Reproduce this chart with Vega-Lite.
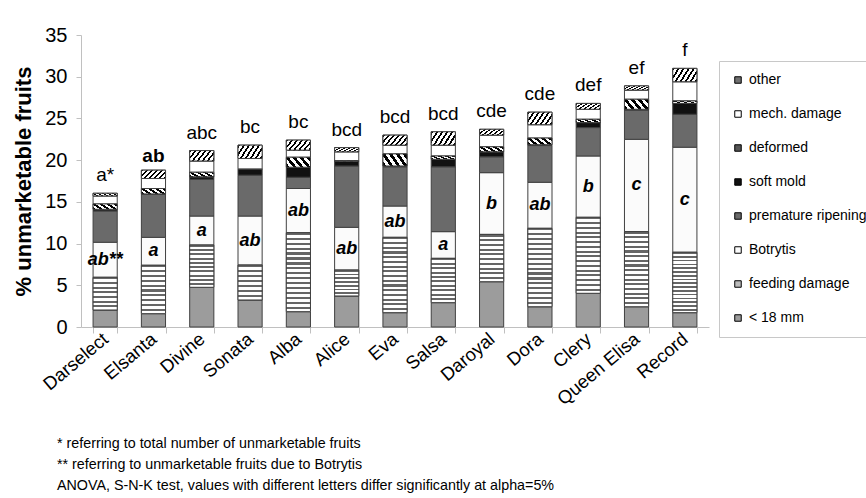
{
  "$schema": "https://vega.github.io/schema/vega-lite/v6.json",
  "autosize": {"type": "none"},
  "padding": {"left": 81, "top": 35, "right": 157, "bottom": 171},
  "width": 628,
  "height": 292,
  "background": "white",
  "title": {
    "text": ["* referring to total number of unmarketable fruits", "** referring to unmarketable fruits due to Botrytis", "ANOVA, S-N-K test, values with different letters differ significantly at alpha=5%"],
    "orient": "bottom", "anchor": "start", "frame": "group", "fontSize": 14.3, "fontWeight": "normal",
    "font": "Liberation Sans", "color": "black", "lineHeight": 21, "dx": -24, "offset": 29
  },
  "datasets": {
    "main": [
      {"v":"Darselect","c":"< 18 mm","p":2.04},{"v":"Darselect","c":"feeding damage","p":3.92},{"v":"Darselect","c":"Botrytis","p":4.2},{"v":"Darselect","c":"premature ripening","p":3.75},{"v":"Darselect","c":"soft mold","p":0.2},{"v":"Darselect","c":"deformed","p":0.64},{"v":"Darselect","c":"mech. damage","p":0.96},{"v":"Darselect","c":"other","p":0.32},
      {"v":"Elsanta","c":"< 18 mm","p":1.6},{"v":"Elsanta","c":"feeding damage","p":5.8},{"v":"Elsanta","c":"Botrytis","p":3.35},{"v":"Elsanta","c":"premature ripening","p":5.15},{"v":"Elsanta","c":"soft mold","p":0.05},{"v":"Elsanta","c":"deformed","p":0.65},{"v":"Elsanta","c":"mech. damage","p":1.2},{"v":"Elsanta","c":"other","p":1.0},
      {"v":"Divine","c":"< 18 mm","p":4.76},{"v":"Divine","c":"feeding damage","p":5.07},{"v":"Divine","c":"Botrytis","p":3.47},{"v":"Divine","c":"premature ripening","p":4.4},{"v":"Divine","c":"soft mold","p":0.3},{"v":"Divine","c":"deformed","p":0.55},{"v":"Divine","c":"mech. damage","p":1.35},{"v":"Divine","c":"other","p":1.25},
      {"v":"Sonata","c":"< 18 mm","p":3.24},{"v":"Sonata","c":"feeding damage","p":4.19},{"v":"Sonata","c":"Botrytis","p":5.87},{"v":"Sonata","c":"premature ripening","p":4.9},{"v":"Sonata","c":"soft mold","p":0.75},{"v":"Sonata","c":"deformed","p":0},{"v":"Sonata","c":"mech. damage","p":1.25},{"v":"Sonata","c":"other","p":1.6},
      {"v":"Alba","c":"< 18 mm","p":1.84},{"v":"Alba","c":"feeding damage","p":9.46},{"v":"Alba","c":"Botrytis","p":5.3},{"v":"Alba","c":"premature ripening","p":1.35},{"v":"Alba","c":"soft mold","p":1.2},{"v":"Alba","c":"deformed","p":1.2},{"v":"Alba","c":"mech. damage","p":0.85},{"v":"Alba","c":"other","p":1.2},
      {"v":"Alice","c":"< 18 mm","p":3.72},{"v":"Alice","c":"feeding damage","p":3.11},{"v":"Alice","c":"Botrytis","p":5.12},{"v":"Alice","c":"premature ripening","p":7.35},{"v":"Alice","c":"soft mold","p":0.55},{"v":"Alice","c":"deformed","p":0.1},{"v":"Alice","c":"mech. damage","p":1.05},{"v":"Alice","c":"other","p":0.5},
      {"v":"Eva","c":"< 18 mm","p":1.72},{"v":"Eva","c":"feeding damage","p":9.03},{"v":"Eva","c":"Botrytis","p":3.75},{"v":"Eva","c":"premature ripening","p":4.7},{"v":"Eva","c":"soft mold","p":0.1},{"v":"Eva","c":"deformed","p":1.45},{"v":"Eva","c":"mech. damage","p":1.05},{"v":"Eva","c":"other","p":1.2},
      {"v":"Salsa","c":"< 18 mm","p":2.92},{"v":"Salsa","c":"feeding damage","p":5.31},{"v":"Salsa","c":"Botrytis","p":3.2},{"v":"Salsa","c":"premature ripening","p":7.77},{"v":"Salsa","c":"soft mold","p":0.9},{"v":"Salsa","c":"deformed","p":0.4},{"v":"Salsa","c":"mech. damage","p":1.3},{"v":"Salsa","c":"other","p":1.6},
      {"v":"Daroyal","c":"< 18 mm","p":5.43},{"v":"Daroyal","c":"feeding damage","p":5.67},{"v":"Daroyal","c":"Botrytis","p":7.4},{"v":"Daroyal","c":"premature ripening","p":1.9},{"v":"Daroyal","c":"soft mold","p":0.6},{"v":"Daroyal","c":"deformed","p":0.6},{"v":"Daroyal","c":"mech. damage","p":1.4},{"v":"Daroyal","c":"other","p":0.7},
      {"v":"Dora","c":"< 18 mm","p":2.43},{"v":"Dora","c":"feeding damage","p":9.4},{"v":"Dora","c":"Botrytis","p":5.52},{"v":"Dora","c":"premature ripening","p":4.4},{"v":"Dora","c":"soft mold","p":0.1},{"v":"Dora","c":"deformed","p":0.8},{"v":"Dora","c":"mech. damage","p":1.6},{"v":"Dora","c":"other","p":1.5},
      {"v":"Clery","c":"< 18 mm","p":4.04},{"v":"Clery","c":"feeding damage","p":9.11},{"v":"Clery","c":"Botrytis","p":7.35},{"v":"Clery","c":"premature ripening","p":3.4},{"v":"Clery","c":"soft mold","p":0.6},{"v":"Clery","c":"deformed","p":0.4},{"v":"Clery","c":"mech. damage","p":1.2},{"v":"Clery","c":"other","p":0.7},
      {"v":"Queen Elisa","c":"< 18 mm","p":2.43},{"v":"Queen Elisa","c":"feeding damage","p":9.0},{"v":"Queen Elisa","c":"Botrytis","p":11.07},{"v":"Queen Elisa","c":"premature ripening","p":3.5},{"v":"Queen Elisa","c":"soft mold","p":0.1},{"v":"Queen Elisa","c":"deformed","p":1.2},{"v":"Queen Elisa","c":"mech. damage","p":1.1},{"v":"Queen Elisa","c":"other","p":0.5},
      {"v":"Record","c":"< 18 mm","p":1.72},{"v":"Record","c":"feeding damage","p":7.24},{"v":"Record","c":"Botrytis","p":12.59},{"v":"Record","c":"premature ripening","p":3.95},{"v":"Record","c":"soft mold","p":1.3},{"v":"Record","c":"deformed","p":0.3},{"v":"Record","c":"mech. damage","p":2.3},{"v":"Record","c":"other","p":1.6}
    ],
    "letters": [
      {"v":"Darselect","L":"a*","I":"ab**"},{"v":"Elsanta","L":"ab","I":"a"},{"v":"Divine","L":"abc","I":"a"},{"v":"Sonata","L":"bc","I":"ab"},{"v":"Alba","L":"bc","I":"ab"},{"v":"Alice","L":"bcd","I":"ab"},{"v":"Eva","L":"bcd","I":"ab"},{"v":"Salsa","L":"bcd","I":"a"},{"v":"Daroyal","L":"cde","I":"b"},{"v":"Dora","L":"cde","I":"ab"},{"v":"Clery","L":"def","I":"b"},{"v":"Queen Elisa","L":"ef","I":"c"},{"v":"Record","L":"f","I":"c"}
    ]
  },
  "data": {"name": "main"},
  "transform": [
    {"calculate": "indexof(['< 18 mm','feeding damage','Botrytis','premature ripening','soft mold','deformed','mech. damage','other'], datum.c)", "as": "k"},
    {"stack": "p", "groupby": ["v"], "sort": [{"field": "k", "order": "ascending"}], "as": ["y0", "y1"]},
    {"lookup": "v", "from": {"data": {"name": "letters"}, "key": "v", "fields": ["L", "I"]}}
  ],
  "layer": [
    {
      "mark": {"type": "bar", "stroke": "#404040", "strokeWidth": 1},
      "encoding": {
        "x": {"field": "v", "type": "nominal", "title": null, "sort": ["Darselect","Elsanta","Divine","Sonata","Alba","Alice","Eva","Salsa","Daroyal","Dora","Clery","Queen Elisa","Record"], "scale": {"paddingInner": 0.5, "paddingOuter": 0.25}},
        "y": {"field": "y1", "type": "quantitative", "title": "% unmarketable fruits", "scale": {"domain": [0, 35], "nice": false}, "axis": {"values": [0,5,10,15,20,25,30,35]}},
        "y2": {"field": "y0"},
        "fill": {"field": "c", "type": "nominal",
          "scale": {"domain": ["other","mech. damage","deformed","soft mold","premature ripening","Botrytis","feeding damage","< 18 mm"],
                    "range": ["#707070","#ffffff","#555555","#111111","#6a6a6a","#fbfbfb","#bbbbbb","#9c9c9c"]},
          "legend": {"orient": "none", "legendX": 638, "legendY": 26, "title": null, "labelFontSize": 14, "labelFont": "Liberation Sans", "labelColor": "black",
                     "symbolType": "square", "symbolSize": 42, "symbolStrokeColor": "black", "symbolStrokeWidth": 1, "rowPadding": 20, "padding": 12,
                     "strokeColor": "#c8c8c8", "labelOffset": 4}}
      }
    },
    {
      "transform": [{"filter": "datum.c==='feeding damage' && indexof(['Darselect','Sonata','Alice'], datum.v) >= 0"}],
      "mark": {"type": "bar", "stroke": "#404040", "strokeWidth": 1, "fill": {"gradient": "linear", "x1": 0, "y1": 0, "x2": 0, "y2": 1, "stops": [
        {"offset":0,"color":"#666"},{"offset":0.0643,"color":"#666"},{"offset":0.0643,"color":"#fff"},{"offset":0.1429,"color":"#fff"},
        {"offset":0.1429,"color":"#666"},{"offset":0.2071,"color":"#666"},{"offset":0.2071,"color":"#fff"},{"offset":0.2857,"color":"#fff"},
        {"offset":0.2857,"color":"#666"},{"offset":0.35,"color":"#666"},{"offset":0.35,"color":"#fff"},{"offset":0.4286,"color":"#fff"},
        {"offset":0.4286,"color":"#666"},{"offset":0.4929,"color":"#666"},{"offset":0.4929,"color":"#fff"},{"offset":0.5714,"color":"#fff"},
        {"offset":0.5714,"color":"#666"},{"offset":0.6357,"color":"#666"},{"offset":0.6357,"color":"#fff"},{"offset":0.7143,"color":"#fff"},
        {"offset":0.7143,"color":"#666"},{"offset":0.7786,"color":"#666"},{"offset":0.7786,"color":"#fff"},{"offset":0.8571,"color":"#fff"},
        {"offset":0.8571,"color":"#666"},{"offset":0.9214,"color":"#666"},{"offset":0.9214,"color":"#fff"},{"offset":1,"color":"#fff"}]}},
      "encoding": {
        "x": {"field": "v", "type": "nominal", "title": null, "sort": ["Darselect","Elsanta","Divine","Sonata","Alba","Alice","Eva","Salsa","Daroyal","Dora","Clery","Queen Elisa","Record"]},
        "y": {"field": "y1", "type": "quantitative", "title": "% unmarketable fruits"},
        "y2": {"field": "y0"}
      }
    },
    {
      "transform": [{"filter": "datum.c==='feeding damage' && indexof(['Elsanta','Divine','Salsa','Daroyal'], datum.v) >= 0"}],
      "mark": {"type": "bar", "stroke": "#404040", "strokeWidth": 1, "fill": {"gradient": "linear", "x1": 0, "y1": 0, "x2": 0, "y2": 1, "stops": [
        {"offset":0,"color":"#666"},{"offset":0.045,"color":"#666"},{"offset":0.045,"color":"#fff"},{"offset":0.1,"color":"#fff"},
        {"offset":0.1,"color":"#666"},{"offset":0.145,"color":"#666"},{"offset":0.145,"color":"#fff"},{"offset":0.2,"color":"#fff"},
        {"offset":0.2,"color":"#666"},{"offset":0.245,"color":"#666"},{"offset":0.245,"color":"#fff"},{"offset":0.3,"color":"#fff"},
        {"offset":0.3,"color":"#666"},{"offset":0.345,"color":"#666"},{"offset":0.345,"color":"#fff"},{"offset":0.4,"color":"#fff"},
        {"offset":0.4,"color":"#666"},{"offset":0.445,"color":"#666"},{"offset":0.445,"color":"#fff"},{"offset":0.5,"color":"#fff"},
        {"offset":0.5,"color":"#666"},{"offset":0.545,"color":"#666"},{"offset":0.545,"color":"#fff"},{"offset":0.6,"color":"#fff"},
        {"offset":0.6,"color":"#666"},{"offset":0.645,"color":"#666"},{"offset":0.645,"color":"#fff"},{"offset":0.7,"color":"#fff"},
        {"offset":0.7,"color":"#666"},{"offset":0.745,"color":"#666"},{"offset":0.745,"color":"#fff"},{"offset":0.8,"color":"#fff"},
        {"offset":0.8,"color":"#666"},{"offset":0.845,"color":"#666"},{"offset":0.845,"color":"#fff"},{"offset":0.9,"color":"#fff"},
        {"offset":0.9,"color":"#666"},{"offset":0.945,"color":"#666"},{"offset":0.945,"color":"#fff"},{"offset":1,"color":"#fff"}]}},
      "encoding": {
        "x": {"field": "v", "type": "nominal", "title": null, "sort": ["Darselect","Elsanta","Divine","Sonata","Alba","Alice","Eva","Salsa","Daroyal","Dora","Clery","Queen Elisa","Record"]},
        "y": {"field": "y1", "type": "quantitative", "title": "% unmarketable fruits"},
        "y2": {"field": "y0"}
      }
    },
    {
      "transform": [{"filter": "datum.c==='feeding damage' && indexof(['Alba','Eva','Dora','Clery','Queen Elisa','Record'], datum.v) >= 0"}],
      "mark": {"type": "bar", "stroke": "#404040", "strokeWidth": 1, "fill": {"gradient": "linear", "x1": 0, "y1": 0, "x2": 0, "y2": 1, "stops": [
        {"offset":0,"color":"#666"},{"offset":0.028,"color":"#666"},{"offset":0.028,"color":"#fff"},{"offset":0.0625,"color":"#fff"},
        {"offset":0.0625,"color":"#666"},{"offset":0.0905,"color":"#666"},{"offset":0.0905,"color":"#fff"},{"offset":0.125,"color":"#fff"},
        {"offset":0.125,"color":"#666"},{"offset":0.153,"color":"#666"},{"offset":0.153,"color":"#fff"},{"offset":0.1875,"color":"#fff"},
        {"offset":0.1875,"color":"#666"},{"offset":0.2155,"color":"#666"},{"offset":0.2155,"color":"#fff"},{"offset":0.25,"color":"#fff"},
        {"offset":0.25,"color":"#666"},{"offset":0.278,"color":"#666"},{"offset":0.278,"color":"#fff"},{"offset":0.3125,"color":"#fff"},
        {"offset":0.3125,"color":"#666"},{"offset":0.3405,"color":"#666"},{"offset":0.3405,"color":"#fff"},{"offset":0.375,"color":"#fff"},
        {"offset":0.375,"color":"#666"},{"offset":0.403,"color":"#666"},{"offset":0.403,"color":"#fff"},{"offset":0.4375,"color":"#fff"},
        {"offset":0.4375,"color":"#666"},{"offset":0.4655,"color":"#666"},{"offset":0.4655,"color":"#fff"},{"offset":0.5,"color":"#fff"},
        {"offset":0.5,"color":"#666"},{"offset":0.528,"color":"#666"},{"offset":0.528,"color":"#fff"},{"offset":0.5625,"color":"#fff"},
        {"offset":0.5625,"color":"#666"},{"offset":0.5905,"color":"#666"},{"offset":0.5905,"color":"#fff"},{"offset":0.625,"color":"#fff"},
        {"offset":0.625,"color":"#666"},{"offset":0.653,"color":"#666"},{"offset":0.653,"color":"#fff"},{"offset":0.6875,"color":"#fff"},
        {"offset":0.6875,"color":"#666"},{"offset":0.7155,"color":"#666"},{"offset":0.7155,"color":"#fff"},{"offset":0.75,"color":"#fff"},
        {"offset":0.75,"color":"#666"},{"offset":0.778,"color":"#666"},{"offset":0.778,"color":"#fff"},{"offset":0.8125,"color":"#fff"},
        {"offset":0.8125,"color":"#666"},{"offset":0.8405,"color":"#666"},{"offset":0.8405,"color":"#fff"},{"offset":0.875,"color":"#fff"},
        {"offset":0.875,"color":"#666"},{"offset":0.903,"color":"#666"},{"offset":0.903,"color":"#fff"},{"offset":0.9375,"color":"#fff"},
        {"offset":0.9375,"color":"#666"},{"offset":0.9655,"color":"#666"},{"offset":0.9655,"color":"#fff"},{"offset":1,"color":"#fff"}]}},
      "encoding": {
        "x": {"field": "v", "type": "nominal", "title": null, "sort": ["Darselect","Elsanta","Divine","Sonata","Alba","Alice","Eva","Salsa","Daroyal","Dora","Clery","Queen Elisa","Record"]},
        "y": {"field": "y1", "type": "quantitative", "title": "% unmarketable fruits"},
        "y2": {"field": "y0"}
      }
    },
    {
      "transform": [{"filter": "datum.c==='other'"}],
      "mark": {"type": "bar", "stroke": "#404040", "strokeWidth": 1, "fill": {"gradient": "linear", "x1": 0, "y1": 0, "x2": 1.3, "y2": 0.45, "stops": [
        {"offset":0,"color":"#000"},{"offset":0.057,"color":"#000"},{"offset":0.057,"color":"#fff"},{"offset":0.143,"color":"#fff"},
        {"offset":0.143,"color":"#000"},{"offset":0.2,"color":"#000"},{"offset":0.2,"color":"#fff"},{"offset":0.286,"color":"#fff"},
        {"offset":0.286,"color":"#000"},{"offset":0.343,"color":"#000"},{"offset":0.343,"color":"#fff"},{"offset":0.429,"color":"#fff"},
        {"offset":0.429,"color":"#000"},{"offset":0.486,"color":"#000"},{"offset":0.486,"color":"#fff"},{"offset":0.571,"color":"#fff"},
        {"offset":0.571,"color":"#000"},{"offset":0.629,"color":"#000"},{"offset":0.629,"color":"#fff"},{"offset":0.714,"color":"#fff"},
        {"offset":0.714,"color":"#000"},{"offset":0.771,"color":"#000"},{"offset":0.771,"color":"#fff"},{"offset":0.857,"color":"#fff"},
        {"offset":0.857,"color":"#000"},{"offset":0.914,"color":"#000"},{"offset":0.914,"color":"#fff"},{"offset":1,"color":"#fff"}]}},
      "encoding": {
        "x": {"field": "v", "type": "nominal", "title": null, "sort": ["Darselect","Elsanta","Divine","Sonata","Alba","Alice","Eva","Salsa","Daroyal","Dora","Clery","Queen Elisa","Record"]},
        "y": {"field": "y1", "type": "quantitative", "title": "% unmarketable fruits"},
        "y2": {"field": "y0"}
      }
    },
    {
      "transform": [{"filter": "datum.c==='deformed' && datum.p > 0"}],
      "mark": {"type": "bar", "stroke": "#404040", "strokeWidth": 1, "fill": {"gradient": "linear", "x1": 0, "y1": 1, "x2": 1.3, "y2": 0.55, "stops": [
        {"offset":0,"color":"#000"},{"offset":0.1,"color":"#000"},{"offset":0.1,"color":"#fff"},{"offset":0.2,"color":"#fff"},
        {"offset":0.2,"color":"#000"},{"offset":0.3,"color":"#000"},{"offset":0.3,"color":"#fff"},{"offset":0.4,"color":"#fff"},
        {"offset":0.4,"color":"#000"},{"offset":0.5,"color":"#000"},{"offset":0.5,"color":"#fff"},{"offset":0.6,"color":"#fff"},
        {"offset":0.6,"color":"#000"},{"offset":0.7,"color":"#000"},{"offset":0.7,"color":"#fff"},{"offset":0.8,"color":"#fff"},
        {"offset":0.8,"color":"#000"},{"offset":0.9,"color":"#000"},{"offset":0.9,"color":"#fff"},{"offset":1,"color":"#fff"}]}},
      "encoding": {
        "x": {"field": "v", "type": "nominal", "title": null, "sort": ["Darselect","Elsanta","Divine","Sonata","Alba","Alice","Eva","Salsa","Daroyal","Dora","Clery","Queen Elisa","Record"]},
        "y": {"field": "y1", "type": "quantitative", "title": "% unmarketable fruits"},
        "y2": {"field": "y0"}
      }
    },
    {
      "transform": [{"filter": "datum.c==='Botrytis'"}, {"calculate": "(datum.y0 + datum.y1) / 2", "as": "mid"}],
      "mark": {"type": "text", "font": "Liberation Sans", "fontSize": 18, "fontWeight": "bold", "fontStyle": "italic", "baseline": "middle", "color": "black"},
      "encoding": {
        "x": {"field": "v", "type": "nominal", "title": null, "sort": ["Darselect","Elsanta","Divine","Sonata","Alba","Alice","Eva","Salsa","Daroyal","Dora","Clery","Queen Elisa","Record"]},
        "y": {"field": "mid", "type": "quantitative", "title": "% unmarketable fruits"},
        "text": {"field": "I"}
      }
    },
    {
      "transform": [{"filter": "datum.c==='other' && datum.v !== 'Elsanta'"}],
      "mark": {"type": "text", "font": "Liberation Sans", "fontSize": 19, "baseline": "alphabetic", "dy": -12, "color": "black"},
      "encoding": {
        "x": {"field": "v", "type": "nominal", "title": null, "sort": ["Darselect","Elsanta","Divine","Sonata","Alba","Alice","Eva","Salsa","Daroyal","Dora","Clery","Queen Elisa","Record"]},
        "y": {"field": "y1", "type": "quantitative", "title": "% unmarketable fruits"},
        "text": {"field": "L"}
      }
    },
    {
      "transform": [{"filter": "datum.c==='other' && datum.v === 'Elsanta'"}],
      "mark": {"type": "text", "font": "Liberation Sans", "fontSize": 19, "fontWeight": "bold", "baseline": "alphabetic", "dy": -8, "color": "black"},
      "encoding": {
        "x": {"field": "v", "type": "nominal", "title": null, "sort": ["Darselect","Elsanta","Divine","Sonata","Alba","Alice","Eva","Salsa","Daroyal","Dora","Clery","Queen Elisa","Record"]},
        "y": {"field": "y1", "type": "quantitative", "title": "% unmarketable fruits"},
        "text": {"field": "L"}
      }
    }
  ],
  "config": {
    "font": "Liberation Sans",
    "view": {"stroke": null},
    "axis": {"labelColor": "black", "titleColor": "black", "labelFont": "Liberation Sans", "titleFont": "Liberation Sans", "grid": false, "domainColor": "#c0c0c0", "tickColor": "#c0c0c0"},
    "axisX": {"labelAngle": -40, "labelFontSize": 18.5, "tickBand": "extent", "tickSize": 6, "labelPadding": 3, "labelAlign": "right", "labelBaseline": "middle"},
    "axisY": {"labelFontSize": 20, "tickSize": 5, "labelPadding": 9, "titleFontSize": 22, "titleFontWeight": "bold", "titlePadding": 9}
  }
}
